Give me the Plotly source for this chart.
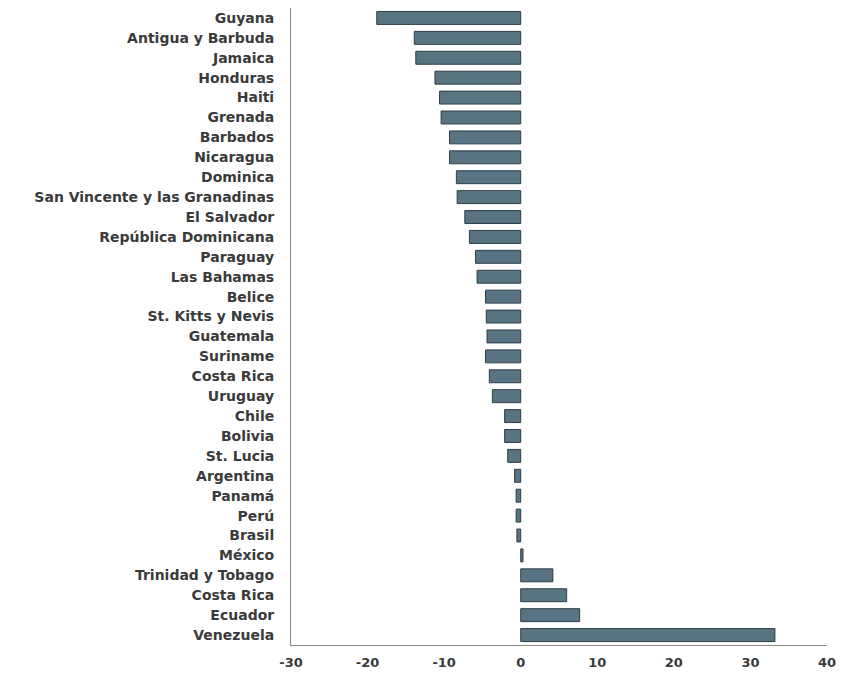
import plotly.graph_objects as go

countries = [
    "Guyana", "Antigua y Barbuda", "Jamaica", "Honduras", "Haiti", "Grenada",
    "Barbados", "Nicaragua", "Dominica", "San Vincente y las Granadinas",
    "El Salvador", "República Dominicana", "Paraguay", "Las Bahamas", "Belice",
    "St. Kitts y Nevis", "Guatemala", "Suriname", "Costa Rica", "Uruguay",
    "Chile", "Bolivia", "St. Lucia", "Argentina", "Panamá", "Perú", "Brasil",
    "México", "Trinidad y Tobago", "Costa Rica", "Ecuador", "Venezuela",
]
values = [
    -18.8, -13.9, -13.7, -11.2, -10.6, -10.4,
    -9.3, -9.3, -8.4, -8.3,
    -7.3, -6.7, -5.9, -5.7, -4.6,
    -4.5, -4.4, -4.6, -4.1, -3.7,
    -2.1, -2.1, -1.7, -0.8, -0.6, -0.6, -0.5,
    0.3, 4.2, 6.0, 7.7, 33.2,
]
x_ticks = [-30, -20, -10, 0, 10, 20, 30, 40]

positions = list(range(len(countries)))

fig = go.Figure(
    go.Bar(
        x=values,
        y=positions,
        orientation="h",
        marker=dict(color="#587482", line=dict(color="#2f3e47", width=1)),
        width=0.65,
    )
)

yfont = dict(family="DejaVu Sans", size=14, color="#3a3a3a", weight="bold")
xfont = dict(family="DejaVu Sans", size=13, color="#3a3a3a", weight="bold")

fig.update_layout(
    width=844,
    height=679,
    margin=dict(l=291, r=14, t=8, b=34),
    paper_bgcolor="white",
    plot_bgcolor="white",
    showlegend=False,
    xaxis=dict(
        range=[-30, 40],
        tickvals=x_ticks,
        ticktext=[str(v) for v in x_ticks],
        showgrid=False,
        zeroline=False,
        showline=True,
        linecolor="#8a8a8a",
        linewidth=1,
        tickfont=xfont,
        ticks="",
        ticklabelstandoff=5,
    ),
    yaxis=dict(
        range=[len(countries) - 0.5, -0.5],
        tickvals=positions,
        ticktext=countries,
        showgrid=False,
        zeroline=False,
        showline=True,
        linecolor="#8a8a8a",
        linewidth=1,
        tickfont=yfont,
        ticks="",
        ticklabelstandoff=13,
    ),
)

fig.write_html("out.html")
